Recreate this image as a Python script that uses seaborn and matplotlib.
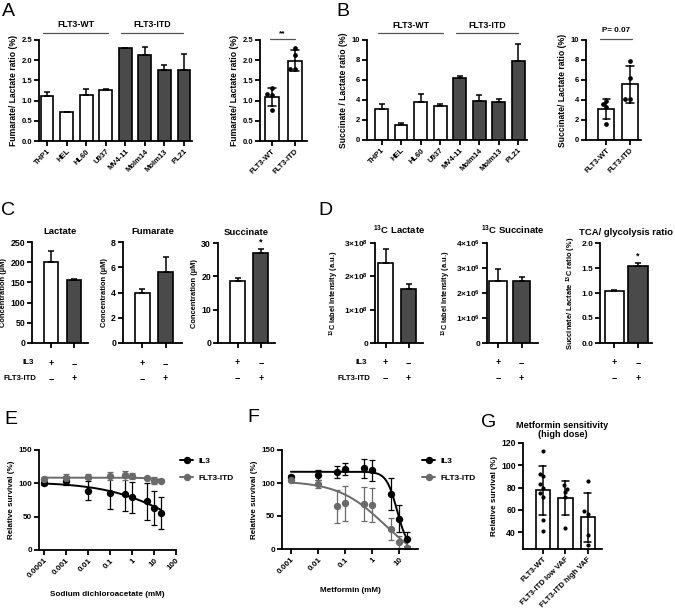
import numpy as np
import pandas as pd
import matplotlib
matplotlib.use('Agg')
import matplotlib.pyplot as plt
from matplotlib.lines import Line2D
import seaborn as sns

# ---------------- data ----------------
cell_lines = ['THP1', 'HEL', 'HL60', 'U937', 'MV4-11', 'Molm14', 'Molm13', 'PL21']
cell_group = ['FLT3-WT'] * 4 + ['FLT3-ITD'] * 4
fum_ratio = [1.12, 0.71, 1.14, 1.27, 2.30, 2.13, 1.76, 1.75]
fum_ratio_err = [0.09, 0.02, 0.15, 0.02, 0.01, 0.19, 0.13, 0.40]
succ_ratio = [3.15, 1.55, 3.85, 3.45, 6.25, 3.95, 3.85, 7.90]
succ_ratio_err = [0.45, 0.12, 0.75, 0.20, 0.15, 0.55, 0.25, 1.75]

groups = ['FLT3-WT', 'FLT3-ITD']
fum_wt_pts = [1.30, 1.16, 1.14, 0.76]
fum_itd_pts = [2.29, 2.13, 1.77, 1.77]
succ_wt_pts = [3.9, 3.6, 3.3, 1.6]
succ_itd_pts = [7.9, 6.23, 4.07, 4.07]

conditions = ['IL3', 'FLT3-ITD']
il3_signs = ['+', '\u2212']
itd_signs = ['\u2212', '+']
lactate_conc = [200, 155]
lactate_err = [28, 3]
fumarate_conc = [4.0, 5.65]
fumarate_err = [0.3, 1.2]
succinate_conc = [18.7, 27.1]
succinate_err = [0.8, 1.2]
c13_lactate = [2.40e8, 1.62e8]
c13_lactate_err = [0.42e8, 0.15e8]
c13_succinate = [2.50e6, 2.48e6]
c13_succinate_err = [0.48e6, 0.15e6]
tca_ratio = [1.04, 1.55]
tca_ratio_err = [0.02, 0.06]

dca_dose = [0.0001, 0.001, 0.01, 0.1, 0.5, 1, 5, 10, 20]
dca_il3 = [101, 104, 89, 86, 84, 79, 73, 63, 56]
dca_il3_err = [3, 7, 14, 25, 26, 23, 28, 26, 24]
dca_itd = [106, 108, 110, 111, 112, 111, 108, 104, 104]
dca_itd_err = [3, 6, 4, 6, 7, 5, 2, 5, 2]
dca_fit_il3 = (102, 0, 78, 0.28)      # top, bottom, EC50, hill slope
dca_fit_itd = (108.5, 0, 600, 1.0)

met_dose = [0.001, 0.01, 0.05, 0.1, 0.5, 1, 5, 10, 20]
met_il3 = [109, 112, 117, 121, 122, 119, 83, 46, 15]
met_il3_err = [3, 8, 9, 9, 14, 16, 24, 20, 11]
met_itd = [105, 99, 65, 69, 68, 67, 30, 10, 1]
met_itd_err = [3, 6, 25, 26, 26, 26, 17, 9, 3]
met_fit_il3 = (117, 0, 8.4, 2.22)
met_fit_itd = (103, -30, 3.0, 0.5)

vaf_groups = ['FLT3-WT', 'FLT3-ITD low VAF', 'FLT3-ITD high VAF']
vaf_wt = [113, 92.5, 90, 83, 80, 75, 72, 51, 41]
vaf_low = [82, 79, 75.7, 72, 44]
vaf_high = [85.7, 58.8, 56.6, 37.3, 29]

DARK = '#4a4a4a'
GREY = '#6a6a6a'

# ---------------- style ----------------
sns.set_style('ticks')
plt.rcParams['font.family'] = ['Liberation Sans', 'DejaVu Sans']
plt.rcParams.update({
    'font.weight': 'bold', 'axes.labelweight': 'bold', 'axes.titleweight': 'bold',
    'text.color': 'k', 'axes.labelcolor': 'k', 'axes.edgecolor': 'k',
    'xtick.color': 'k', 'ytick.color': 'k',
    'axes.linewidth': 1.3, 'xtick.major.width': 1.3, 'ytick.major.width': 1.3,
    'xtick.major.size': 3.5, 'ytick.major.size': 3.5,
    'xtick.major.pad': 1.5, 'ytick.major.pad': 1.5, 'axes.labelpad': 2.5,
    'mathtext.fontset': 'custom', 'mathtext.rm': 'Liberation Sans:bold',
    'mathtext.it': 'Liberation Sans:bold', 'mathtext.bf': 'Liberation Sans:bold',
    'mathtext.default': 'rm',
})

W, H = 675, 613
fig = plt.figure(figsize=(6.75, 6.13), dpi=100)


def add_ax(x0, y0, x1, y1):
    return fig.add_axes([x0 / W, 1 - y1 / H, (x1 - x0) / W, (y1 - y0) / H])


def summary_bars(ax, cats, vals, errs, colors, width):
    sns.barplot(x=cats, y=vals, hue=cats, palette=colors, legend=False, errorbar=None,
                saturation=1, edgecolor='k', linewidth=1.2, width=width, ax=ax)
    ax.errorbar(range(len(cats)), vals, yerr=[np.zeros(len(vals)), errs], fmt='none',
                ecolor='k', elinewidth=1.1, capsize=2.5, capthick=1.1, zorder=1)


def raw_bars(ax, cats, samples, width, dot, fs):
    df = pd.DataFrame({'group': np.repeat(cats, [len(s) for s in samples]),
                       'value': np.concatenate(samples)})
    sns.barplot(data=df, x='group', y='value', color='white', saturation=1, edgecolor='k',
                linewidth=1.2, width=width, errorbar='sd', capsize=0.32,
                err_kws={'color': 'k', 'linewidth': 1.1}, ax=ax)
    sns.swarmplot(data=df, x='group', y='value', color='k', size=dot, ax=ax)
    ax.set_xlabel('')
    ax.set_xticks(range(len(cats)))
    ax.set_xticklabels(cats, rotation=45, ha='right', rotation_mode='anchor', fontsize=fs)


def bracket(ax, x0, x1, y_line, y_text, label, fs):
    tr = ax.get_xaxis_transform()
    ax.plot([x0, x1], [y_line, y_line], color='#555555', lw=0.9, transform=tr, clip_on=False)
    ax.text((x0 + x1) / 2, y_text, label, transform=tr, ha='center', va='center', fontsize=fs)


def sign_rows(ax):
    tr = ax.get_xaxis_transform()
    for i in range(len(conditions)):
        ax.text(i, -0.2, il3_signs[i], transform=tr, ha='center', va='center', fontsize=6.5)
        ax.text(i, -0.35, itd_signs[i], transform=tr, ha='center', va='center', fontsize=6.5)
    ax.set_xticklabels([])


def sci(v):
    if v == 0:
        return '0'
    e = int(np.floor(np.log10(v)))
    return r'$%d{\times}10^{%d}$' % (round(v / 10 ** e), e)


def hill(x, top, bottom, ec50, slope):
    return bottom + (top - bottom) / (1 + (x / ec50) ** slope)


def dose_panel(ax, doses, series, fits, xticks, xlim, xlabel):
    xs = np.logspace(np.log10(doses[0]), np.log10(doses[-1]), 200)
    for (vals, errs), fit, col in zip(series, fits, ['k', GREY]):
        sns.lineplot(x=xs, y=hill(xs, *fit), color=col, lw=1.4, ax=ax)
        ax.errorbar(doses, vals, yerr=errs, fmt='o', color=col, ms=4.3, capsize=2,
                    elinewidth=0.9, capthick=0.9)
    ax.set_xscale('log')
    ax.set_xlim(*xlim)
    ax.set_xticks(xticks)
    ax.set_xticklabels([('%g' % t) for t in xticks], rotation=45, ha='right',
                       rotation_mode='anchor')
    ax.minorticks_off()
    ax.set_ylim(0, 150)
    ax.set_yticks([0, 50, 100, 150])
    ax.set_xlabel(xlabel, fontsize=5.9, labelpad=8)
    ax.set_ylabel('Relative survival (%)', fontsize=5.8)
    ax.tick_params(labelsize=5.8)
    handles = [Line2D([], [], color=c, marker='o', ms=4.3, lw=1.4) for c in ['k', GREY]]
    ax.legend(handles, conditions, loc='upper left', bbox_to_anchor=(1.03, 0.93),
              frameon=False, fontsize=6, handlelength=1.6, labelspacing=1.1,
              borderaxespad=0, borderpad=0, handletextpad=0.6)
    sns.despine(ax=ax)


bar_colors = ['white' if g == 'FLT3-WT' else DARK for g in cell_group]

# ---------------- A ----------------
ax = add_ax(39, 40, 192, 141)
summary_bars(ax, cell_lines, fum_ratio, fum_ratio_err, bar_colors, 0.65)
ax.set_xlim(-0.41, 7.41)
ax.set_ylim(0, 2.5)
ax.set_yticks(np.arange(0, 2.51, 0.5))
ax.set_yticklabels(['%.1f' % t for t in np.arange(0, 2.51, 0.5)])
ax.set_xticks(range(8))
ax.set_xticklabels(cell_lines, rotation=45, ha='right', rotation_mode='anchor')
ax.tick_params(labelsize=5.5)
ax.set_ylabel('Fumarate/ Lactate ratio (%)', fontsize=6.2)
bracket(ax, -0.2, 3.1, 1.07, 1.15, 'FLT3-WT', 6.3)
bracket(ax, 3.78, 6.94, 1.07, 1.15, 'FLT3-ITD', 6.3)
sns.despine(ax=ax)

ax = add_ax(260, 40, 307, 141)
raw_bars(ax, groups, [fum_wt_pts, fum_itd_pts], 0.6, 3.4, 5.5)
ax.set_xlim(-0.5, 1.5)
ax.set_ylim(0, 2.5)
ax.set_yticks(np.arange(0, 2.51, 0.5))
ax.set_yticklabels(['%.1f' % t for t in np.arange(0, 2.51, 0.5)])
ax.tick_params(labelsize=5.5)
ax.set_ylabel('Fumarate/ Lactate ratio (%)', fontsize=6.2)
bracket(ax, -0.07, 0.97, 1.01, 1.06, '**', 6)
sns.despine(ax=ax)

# ---------------- B ----------------
ax = add_ax(367, 40, 527, 140)
summary_bars(ax, cell_lines, succ_ratio, succ_ratio_err, bar_colors, 0.65)
ax.set_xlim(-0.75, 7.45)
ax.set_ylim(0, 10)
ax.set_yticks(range(0, 11, 2))
ax.set_xticks(range(8))
ax.set_xticklabels(cell_lines, rotation=45, ha='right', rotation_mode='anchor')
ax.tick_params(labelsize=5.5)
ax.set_ylabel('Succinate / Lactate ratio (%)', fontsize=6.2)
bracket(ax, -0.17, 3.16, 1.07, 1.15, 'FLT3-WT', 6.3)
bracket(ax, 3.8, 7.0, 1.07, 1.15, 'FLT3-ITD', 6.3)
sns.despine(ax=ax)

ax = add_ax(586, 40, 641, 140)
raw_bars(ax, groups, [succ_wt_pts, succ_itd_pts], 0.68, 3.4, 5.5)
ax.set_xlim(-0.87, 1.47)
ax.set_ylim(0, 10)
ax.set_yticks(range(0, 11, 2))
ax.tick_params(labelsize=5.5)
ax.set_ylabel('Succinate/ Lactate ratio (%)', fontsize=6.2)
bracket(ax, -0.28, 1.07, 1.01, 1.09, 'P= 0.07', 5.8)
sns.despine(ax=ax)

# ---------------- C ----------------
pair_colors = ['white', DARK]
c_panels = [
    ((32, 242, 88, 343), lactate_conc, lactate_err, 'Lactate', (0, 250), range(0, 251, 50), (-0.82, 1.62)),
    ((123, 242, 182, 343), fumarate_conc, fumarate_err, 'Fumarate', (0, 8), range(0, 9, 2), (-0.81, 1.69)),
    ((218, 243, 275, 343), succinate_conc, succinate_err, 'Succinate', (0, 30), range(0, 31, 10), (-0.84, 1.61)),
]
for rect, vals, errs, title, ylim, yt, xlim in c_panels:
    ax = add_ax(*rect)
    summary_bars(ax, conditions, vals, errs, pair_colors, 0.63)
    ax.set_xlim(*xlim)
    ax.set_ylim(*ylim)
    ax.set_yticks(list(yt))
    ax.set_title(title, fontsize=6.8, pad=6)
    ax.set_ylabel('Concentration (\u00b5M)', fontsize=5.4)
    ax.tick_params(labelsize=6.3)
    sign_rows(ax)
    sns.despine(ax=ax)
    if title == 'Succinate':
        ax.text(1, vals[1] + errs[1] + 0.6, '*', ha='center', va='bottom', fontsize=6.5)

fig.text(34 / W, 1 - 363 / H, 'IL3', ha='right', va='center', fontsize=5.8)
fig.text(36 / W, 1 - 378 / H, 'FLT3-ITD', ha='right', va='center', fontsize=5.6)

# ---------------- D ----------------
d_panels = [
    ((375, 243, 423, 343), c13_lactate, c13_lactate_err, r'$^{13}$C Lactate', 3e8, 1e8, (-0.47, 1.63), 0.65,
     r'$^{13}$C label Intensity (a.u.)'),
    ((487, 243, 538, 343), c13_succinate, c13_succinate_err, r'$^{13}$C Succinate', 4e6, 1e6, (-0.47, 1.70), 0.74,
     r'$^{13}$C label Intensity (a.u.)'),
    ((600, 243, 652, 343), tca_ratio, tca_ratio_err, 'TCA/ glycolysis ratio', 2.0, 0.5, (-0.62, 1.61), 0.85,
     r'Succinate/ Lactate $^{13}$C ratio (%)'),
]
for rect, vals, errs, title, ymax, step, xlim, width, ylabel in d_panels:
    ax = add_ax(*rect)
    summary_bars(ax, conditions, vals, errs, pair_colors, width)
    ax.set_xlim(*xlim)
    ax.set_ylim(0, ymax)
    ticks = np.arange(0, ymax + step / 2, step)
    ax.set_yticks(ticks)
    if ymax > 100:
        ax.set_yticklabels([sci(t) for t in ticks])
    else:
        ax.set_yticklabels(['%.1f' % t for t in ticks])
    ax.set_title(title, fontsize=6.8, pad=6)
    ax.set_ylabel(ylabel, fontsize=5.4)
    ax.tick_params(labelsize=6)
    sign_rows(ax)
    sns.despine(ax=ax)
    if title.startswith('TCA'):
        ax.text(1, vals[1] + errs[1] + 0.04, '*', ha='center', va='bottom', fontsize=6.5)

fig.text(367 / W, 1 - 363 / H, 'IL3', ha='right', va='center', fontsize=5.8)
fig.text(370 / W, 1 - 378 / H, 'FLT3-ITD', ha='right', va='center', fontsize=5.6)

# ---------------- E / F ----------------
ax = add_ax(39, 450, 176, 550)
dose_panel(ax, dca_dose, [(dca_il3, dca_il3_err), (dca_itd, dca_itd_err)],
           [dca_fit_il3, dca_fit_itd], [0.0001, 0.001, 0.01, 0.1, 1, 10, 100],
           (10 ** -4.23, 100), 'Sodium dichloroacetate (mM)')

ax = add_ax(282, 450, 418, 549)
dose_panel(ax, met_dose, [(met_il3, met_il3_err), (met_itd, met_itd_err)],
           [met_fit_il3, met_fit_itd], [0.001, 0.01, 0.1, 1, 10],
           (10 ** -3.33, 10 ** 1.7), 'Metformin (mM)')

# ---------------- G ----------------
ax = add_ax(523, 443, 602, 549)
raw_bars(ax, vaf_groups, [vaf_wt, vaf_low, vaf_high], 0.64, 3.0, 5.6)
ax.set_xlim(-0.88, 2.63)
ax.set_ylim(25, 120)
ax.set_yticks(range(40, 121, 20))
ax.tick_params(axis='y', labelsize=6.2)
ax.set_ylabel('Relative survival (%)', fontsize=5.9)
ax.set_title('Metformin sensitivity\n(high dose)', fontsize=6.6, pad=4, linespacing=1.0)
sns.despine(ax=ax)

# ---------------- panel letters ----------------
for letter, x, y in [('A', 2, 3), ('B', 336, 3), ('C', 1, 202), ('D', 318, 202),
                     ('E', 4, 411), ('F', 247, 409), ('G', 481, 414)]:
    fig.text(x / W, 1 - y / H, letter, ha='left', va='top', fontsize=14, fontweight='normal')

fig.savefig('out.png', dpi=100, facecolor='white')
